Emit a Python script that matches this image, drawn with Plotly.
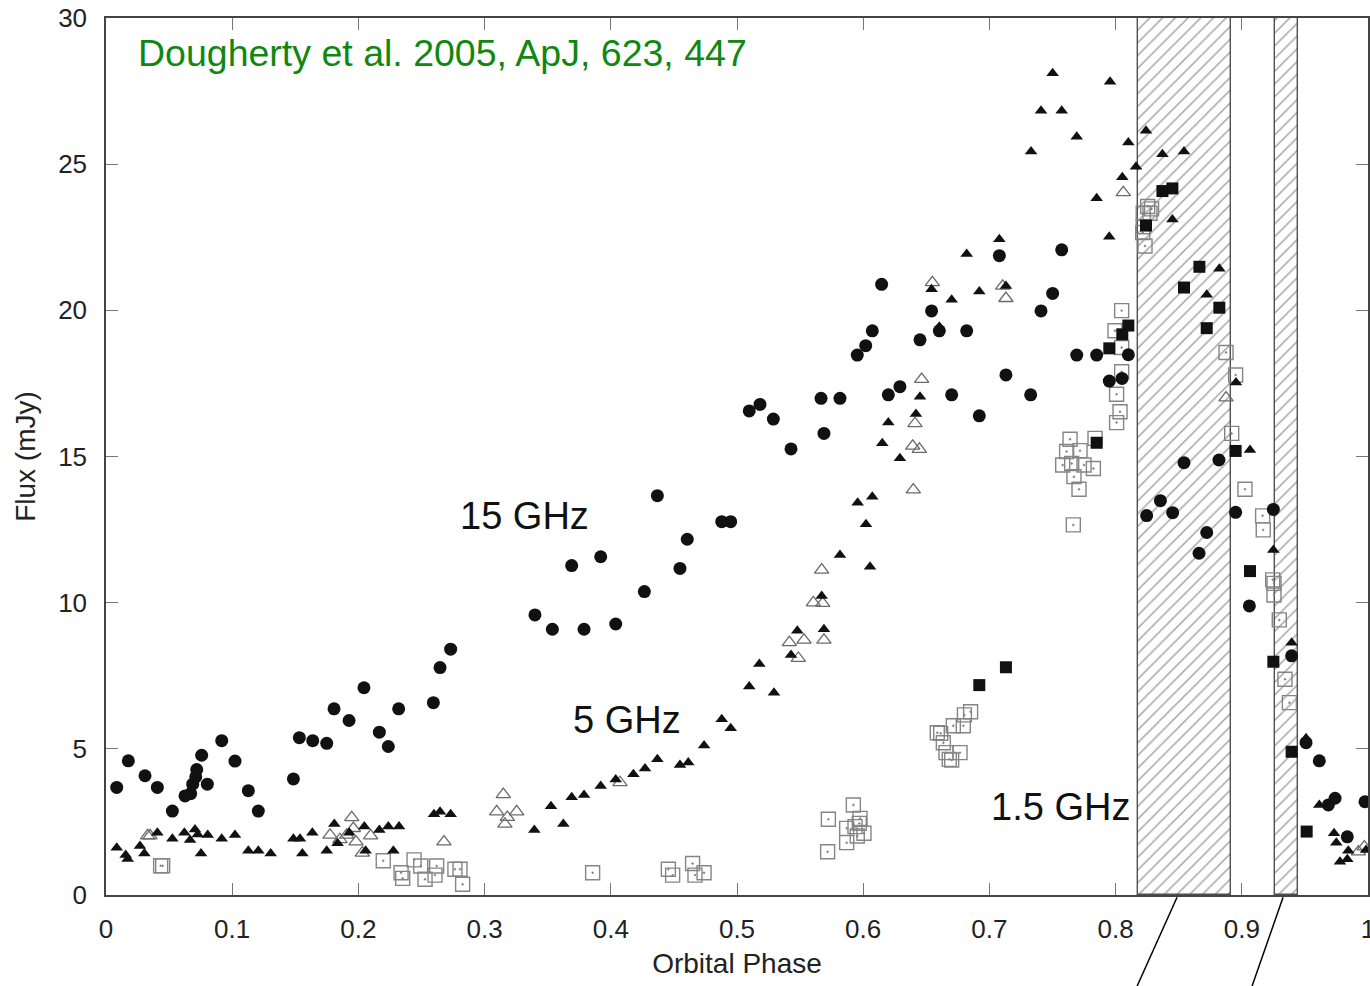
import plotly.graph_objects as go

# ---- 15 GHz (filled circles) ----
c15_phase = [0.0085, 0.0177, 0.0309, 0.0407, 0.0526, 0.0626, 0.0671, 0.0687, 0.0711, 0.0719,
             0.0758, 0.0803, 0.0917, 0.1022, 0.1128, 0.1207, 0.1485, 0.1532, 0.1638, 0.1749,
             0.1807, 0.1926, 0.2044, 0.2166, 0.2237, 0.2319, 0.2594, 0.2647, 0.2731, 0.3399,
             0.3537, 0.3690, 0.3788, 0.3920, 0.4039, 0.4266, 0.4369, 0.4548, 0.4606, 0.4879,
             0.4950, 0.5097, 0.5182, 0.5288, 0.5428, 0.5666, 0.5689, 0.5816, 0.5953, 0.6020,
             0.6072, 0.6146, 0.6199, 0.6291, 0.6450, 0.6542, 0.6603, 0.6701, 0.6820, 0.6920,
             0.7079, 0.7131, 0.7327, 0.7409, 0.7501, 0.7573, 0.7692, 0.7850, 0.7950, 0.8051,
             0.8101, 0.8246, 0.8355, 0.8452, 0.8542, 0.8661, 0.8722, 0.8819, 0.8951, 0.9060,
             0.9250, 0.9395, 0.9509, 0.9614, 0.9686, 0.9739, 0.9836, 0.9976]
c15_flux = [3.68, 4.59, 4.08, 3.68, 2.87, 3.39, 3.47, 3.79, 4.04, 4.29,
            4.78, 3.79, 5.28, 4.58, 3.57, 2.87, 3.97, 5.38, 5.28, 5.19,
            6.37, 5.97, 7.09, 5.57, 5.08, 6.37, 6.58, 7.78, 8.41, 9.58,
            9.09, 11.27, 9.09, 11.57, 9.27, 10.38, 13.66, 11.17, 12.17, 12.77,
            12.77, 16.56, 16.78, 16.28, 15.26, 16.99, 15.79, 16.99, 18.47, 18.79,
            19.30, 20.89, 17.11, 17.39, 18.99, 19.98, 19.30, 17.11, 19.30, 16.39,
            21.87, 17.79, 17.11, 19.98, 20.58, 22.07, 18.47, 18.47, 17.58, 17.67,
            18.48, 12.98, 13.49, 13.08, 14.79, 11.69, 12.40, 14.88, 13.09, 9.89,
            13.19, 8.18, 5.21, 4.59, 3.08, 3.31, 1.99, 3.19]

# ---- 5 GHz (filled triangles) ----
t5_phase = [0.0085, 0.0156, 0.0172, 0.0269, 0.0304, 0.0407, 0.0526, 0.0621, 0.0666, 0.0705,
            0.0727, 0.0753, 0.0806, 0.0917, 0.1022, 0.1128, 0.1207, 0.1305, 0.1485, 0.1537,
            0.1556, 0.1635, 0.1749, 0.1809, 0.1835, 0.1928, 0.2047, 0.2057, 0.2166, 0.2237,
            0.2277, 0.2322, 0.2599, 0.2647, 0.2731, 0.3394, 0.3526, 0.3624, 0.3690, 0.3788,
            0.3920, 0.4039, 0.4179, 0.4271, 0.4369, 0.4548, 0.4614, 0.4739, 0.4879, 0.4950,
            0.5097, 0.5177, 0.5293, 0.5428, 0.5478, 0.5671, 0.5689, 0.5816, 0.5956, 0.6022,
            0.6054, 0.6072, 0.6151, 0.6199, 0.6291, 0.6418, 0.6450, 0.6542, 0.6603, 0.6701,
            0.6820, 0.6920, 0.7079, 0.7131, 0.7330, 0.7409, 0.7501, 0.7573, 0.7692, 0.7850,
            0.7950, 0.7956, 0.8053, 0.8101, 0.8162, 0.8241, 0.8371, 0.8450, 0.8542, 0.8722,
            0.8822, 0.8954, 0.9065, 0.9250, 0.9395, 0.9509, 0.9614, 0.9731, 0.9749, 0.9778,
            0.9836, 0.9844, 0.9984]
t5_flux = [1.62, 1.37, 1.23, 1.68, 1.42, 2.13, 1.92, 2.13, 1.88, 2.24,
           2.07, 1.42, 2.05, 1.92, 2.05, 1.51, 1.51, 1.42, 1.92, 1.92,
           1.42, 2.13, 1.51, 2.43, 1.77, 2.13, 2.34, 1.51, 2.22, 2.34,
           1.51, 2.34, 2.76, 2.85, 2.76, 2.22, 3.04, 2.43, 3.34, 3.42,
           3.73, 3.95, 4.13, 4.33, 4.64, 4.45, 4.53, 5.11, 6.01, 5.70,
           7.13, 7.90, 6.92, 8.21, 9.04, 10.23, 9.09, 11.63, 13.42, 12.68,
           11.23, 13.62, 15.45, 16.16, 14.94, 16.45, 17.04, 20.72, 19.44, 20.36,
           21.93, 20.64, 22.43, 20.83, 25.43, 26.83, 28.11, 26.83, 25.94, 23.83,
           22.52, 27.82, 24.55, 25.74, 24.91, 26.14, 25.34, 23.11, 25.43, 20.53,
           21.42, 17.53, 15.22, 11.80, 8.63, 5.36, 3.08, 2.11, 1.79, 1.14,
           1.22, 1.51, 1.54]

# ---- 5 GHz (open triangles) ----
o5_phase = [0.0330, 0.0349, 0.1775, 0.1854, 0.1907, 0.1947, 0.1960, 0.1981, 0.2031, 0.2097,
            0.2678, 0.3096, 0.3148, 0.3161, 0.3180, 0.3254, 0.4073, 0.5415, 0.5486, 0.5531,
            0.5605, 0.5671, 0.5679, 0.5689, 0.6392, 0.6397, 0.6410, 0.6445, 0.6463, 0.6548,
            0.7105, 0.7131, 0.8061, 0.8875, 0.9924, 0.9971]
o5_flux = [2.03, 2.03, 2.05, 1.90, 2.05, 2.65, 2.28, 1.82, 1.44, 2.03,
           1.82, 2.85, 3.44, 2.43, 2.66, 2.85, 3.85, 8.64, 8.10, 8.72,
           10.00, 11.12, 9.98, 8.72, 15.36, 13.86, 16.13, 15.25, 17.64, 20.95,
           20.83, 20.41, 24.03, 17.01, 1.48, 1.65]

# ---- 1.5 GHz (filled squares) ----
s15_phase = [0.6920, 0.7131, 0.7850, 0.7950, 0.8053, 0.8101, 0.8241, 0.8371, 0.8450, 0.8542,
             0.8664, 0.8722, 0.8822, 0.8951, 0.9065, 0.9250, 0.9395, 0.9514]
s15_flux = [7.18, 7.79, 15.47, 18.70, 19.18, 19.48, 22.90, 24.08, 24.17, 20.78,
            21.49, 19.39, 20.09, 15.19, 11.08, 7.98, 4.90, 2.17]

# ---- 1.5 GHz (open squares) ----
os15_phase = [0.0433, 0.0449, 0.2197, 0.2338, 0.2351, 0.2441, 0.2494, 0.2528, 0.2607, 0.2620,
              0.2765, 0.2805, 0.2826, 0.3856, 0.4456, 0.4490, 0.4648, 0.4667, 0.4739, 0.5718,
              0.5724, 0.5869, 0.5869, 0.5922, 0.5935, 0.5953, 0.5969, 0.5975, 0.6006, 0.6587,
              0.6614, 0.6635, 0.6656, 0.6682, 0.6701, 0.6714, 0.6767, 0.6793, 0.6802, 0.6851,
              0.7581, 0.7612, 0.7639, 0.7652, 0.7665, 0.7670, 0.7710, 0.7718, 0.7750, 0.7824,
              0.7837, 0.7995, 0.8008, 0.8008, 0.8035, 0.8048, 0.8048, 0.8048, 0.8215, 0.8219,
              0.8219, 0.8233, 0.8254, 0.8272, 0.8285, 0.8875, 0.8920, 0.8951, 0.9025, 0.9165,
              0.9170, 0.9245, 0.9255, 0.9255, 0.9297, 0.9342, 0.9377]
os15_flux = [1.00, 1.00, 1.17, 0.76, 0.57, 1.20, 0.99, 0.54, 0.68, 0.99,
             0.88, 0.88, 0.37, 0.76, 0.88, 0.68, 1.08, 0.68, 0.76, 1.48,
             2.59, 2.28, 1.79, 3.08, 2.34, 2.02, 2.45, 2.62, 2.11, 5.55,
             5.53, 5.21, 4.87, 4.64, 4.62, 5.79, 4.87, 5.79, 6.16, 6.27,
             14.71, 15.17, 15.59, 14.76, 12.66, 14.31, 13.88, 15.20, 14.71, 14.59,
             15.62, 19.30, 16.16, 17.13, 16.53, 17.90, 18.73, 19.99, 22.66, 22.86,
             23.32, 22.20, 23.55, 23.32, 23.47, 18.56, 15.79, 17.79, 13.88, 12.97,
             12.49, 10.78, 10.66, 10.26, 9.41, 7.38, 6.58]

# ---- hatched phase intervals ----
band_start = [0.8178, 0.9263]
band_end = [0.8914, 0.9445]

# ---- connector lines running below the axis (phase at top / bottom) ----
connector_top = [0.8487, 0.9327]
connector_bottom = [0.8170, 0.9081]

# ---- frequency labels ----
label_text = ["15 GHz", "5 GHz", "1.5 GHz"]
label_phase = [0.332, 0.413, 0.756]
label_flux = [12.97, 5.99, 3.01]

FONT = "Liberation Sans, Arial, Helvetica, sans-serif"
INK = "#111111"

fig = go.Figure()

# hatched bands drawn as full-height bars
fig.add_trace(go.Bar(
    x=[(a + b) / 2 for a, b in zip(band_start, band_end)],
    y=[30] * len(band_start),
    width=[b - a for a, b in zip(band_start, band_end)],
    base=0,
    marker=dict(color="white",
                line=dict(color="#505050", width=1.4),
                pattern=dict(shape="/", fgcolor="#4a4a4a", bgcolor="white",
                             size=9, solidity=0.17)),
    hoverinfo="skip",
))

fig.add_trace(go.Scatter(
    x=os15_phase, y=os15_flux, mode="markers",
    marker=dict(symbol="square-open-dot", size=14, color="#858585",
                line=dict(width=1.4, color="#858585")),
    name="1.5 GHz (open)"))

fig.add_trace(go.Scatter(
    x=o5_phase, y=o5_flux, mode="markers",
    marker=dict(symbol="triangle-up-open", size=12.5, color="#6a6a6a",
                line=dict(width=1.3, color="#6a6a6a")),
    name="5 GHz (open)"))

fig.add_trace(go.Scatter(
    x=s15_phase, y=s15_flux, mode="markers",
    marker=dict(symbol="square", size=12, color=INK, line=dict(width=0)),
    name="1.5 GHz"))

fig.add_trace(go.Scatter(
    x=t5_phase, y=t5_flux, mode="markers",
    marker=dict(symbol="triangle-up", size=11, color=INK, line=dict(width=0)),
    name="5 GHz"))

fig.add_trace(go.Scatter(
    x=c15_phase, y=c15_flux, mode="markers",
    marker=dict(symbol="circle", size=13, color=INK, line=dict(width=0)),
    name="15 GHz"))

# frequency labels
for txt, px, fy in zip(label_text, label_phase, label_flux):
    fig.add_annotation(x=px, y=fy, xref="x", yref="y", text=txt, showarrow=False,
                       font=dict(family=FONT, size=38, color=INK),
                       xanchor="center", yanchor="middle")

# reference
fig.add_annotation(x=0.0235, y=28.8, xref="x", yref="y",
                   text="Dougherty et al. 2005, ApJ, 623, 447", showarrow=False,
                   font=dict(family=FONT, size=37.5, color="#108810"),
                   xanchor="left", yanchor="middle")

# connector lines below the axis (x-axis spans the full paper width, so paper x == phase)
for top, bottom in zip(connector_top, connector_bottom):
    fig.add_shape(type="line", xref="paper", yref="paper",
                  x0=top, y0=-0.0025, x1=bottom, y1=-0.104,
                  line=dict(color="black", width=1.5))

axis_common = dict(
    showline=True, linecolor="#444444", linewidth=1.5, mirror="allticks",
    ticks="inside", ticklen=12, tickwidth=1.2, tickcolor="#777777",
    showgrid=False, zeroline=False, ticklabeloverflow="allow", automargin=False,
    tickfont=dict(family=FONT, size=26, color="#222222"),
)

fig.update_xaxes(
    range=[0, 1], tickvals=[i / 10 for i in range(11)],
    ticktext=["0", "0.1", "0.2", "0.3", "0.4", "0.5", "0.6", "0.7", "0.8", "0.9", "1"],
    title=dict(text="Orbital Phase", font=dict(family=FONT, size=28, color="#222222"),
               standoff=10),
    ticklabelstandoff=10,
    **axis_common)

fig.update_yaxes(
    range=[0, 30], tickvals=[0, 5, 10, 15, 20, 25, 30],
    title=dict(text="Flux (mJy)", font=dict(family=FONT, size=28, color="#222222"),
               standoff=14),
    ticklabelstandoff=12,
    **axis_common)

fig.update_layout(
    width=1370, height=986,
    margin=dict(l=106, r=2, t=18, b=91),
    paper_bgcolor="white", plot_bgcolor="white",
    showlegend=False, bargap=0,
)

fig.write_html("out.html")
